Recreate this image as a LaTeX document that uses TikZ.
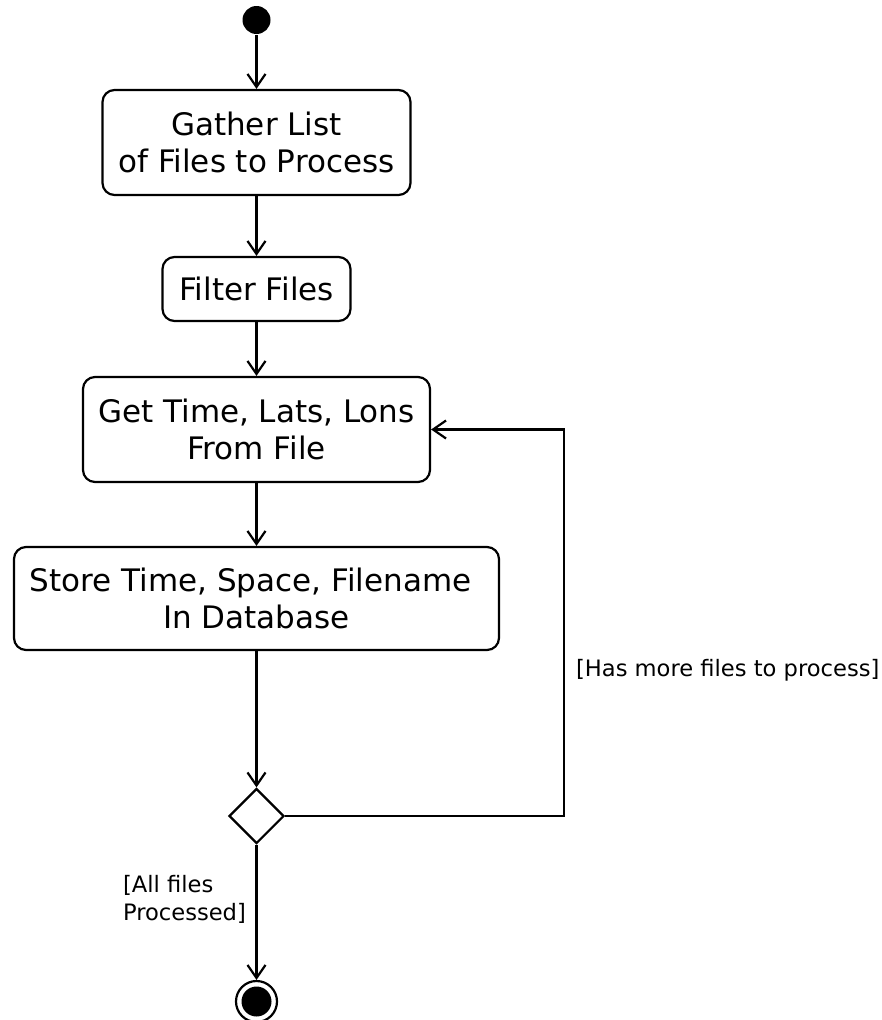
\documentclass[tikz,border=0pt]{standalone}
\usepackage{fontspec}
\setmainfont{DejaVu Sans}
\usetikzlibrary{shapes.geometric,arrows.meta}
\begin{document}
\begin{tikzpicture}[x=1pt,y=-1pt,
  line width=2.2pt,
  act/.style={draw,rectangle,rounded corners=12pt,inner sep=0pt,align=center,
    font=\fontsize{31}{37}\selectfont},
  lbl/.style={inner sep=0pt,align=left,font=\fontsize{22.6}{28}\selectfont},
  flow/.style={-{Straight Barb[length=13pt,width=18pt,line width=2.2pt]}},
]
\useasboundingbox (0,0) rectangle (882,1020);
\node[circle,fill=black,minimum size=28pt,inner sep=0pt] (start) at (256.5,20) {};
\node[act,minimum width=308pt,minimum height=105pt] (gather) at (256.5,142.5) {Gather List\\of Files to Process};
\node[act,minimum width=188pt,minimum height=64pt] (filter) at (256.5,289) {Filter Files};
\node[act,minimum width=347pt,minimum height=105pt] (get) at (256.5,429.5) {Get Time, Lats, Lons\\From File};
\node[act,minimum width=485pt,minimum height=103pt] (store) at (256.5,598.5) {Store Time, Space, Filename\rule{0.38em}{0pt}\\In Database};
\node[diamond,draw,minimum width=55pt,minimum height=55pt,inner sep=0pt] (dec) at (256.5,816) {};
\node[circle,draw,minimum size=41pt,inner sep=0pt] (end) at (256.5,1001.5) {};
\node[circle,fill=black,minimum size=30pt,inner sep=0pt] (endin) at (end.center) {};
\coordinate (cornerB) at (564,816);
\coordinate (cornerT) at (564,429.5);
\draw[flow] (start) -- (gather);
\draw[flow] (gather) -- (filter);
\draw[flow] (filter) -- (get);
\draw[flow] (get) -- (store);
\draw[flow] (store) -- (dec);
\draw[flow] (dec.east) -- (cornerB) -- (cornerT) -- (get.east);
\draw[flow] (dec) -- (end);
\node[lbl,anchor=west] (lhas) at (575,670) {[Has more files to process]};
\node[lbl,anchor=west] (lall) at (122,899) {[All files\\Processed]};
\end{tikzpicture}
\end{document}
